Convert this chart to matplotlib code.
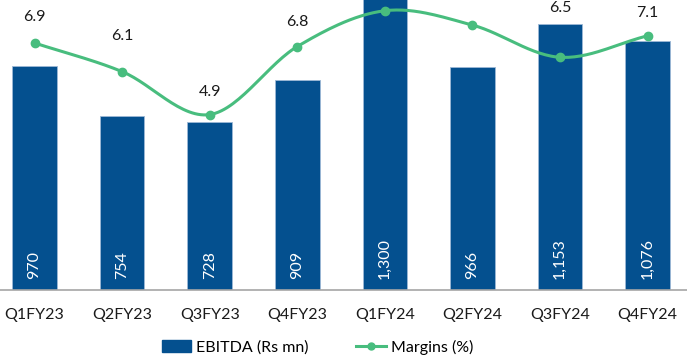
import numpy as np
import matplotlib
matplotlib.use("Agg")
import matplotlib.pyplot as plt
from matplotlib.patches import Patch
from matplotlib.lines import Line2D

quarters = ["Q1FY23", "Q2FY23", "Q3FY23", "Q4FY23", "Q1FY24", "Q2FY24", "Q3FY24", "Q4FY24"]
ebitda = [970, 754, 728, 909, 1300, 966, 1153, 1076]
ebitda_labels = ["970", "754", "728", "909", "1,300", "966", "1,153", "1,076"]
margins = [6.9, 6.1, 4.9, 6.8, 7.8, 7.4, 6.5, 7.1]
# label offsets above the point, in pixels (None = label not visible in the reference)
label_offsets_px = [26, 36, 23, 25, None, None, 49, 23]

BLUE = "#04508F"
GREEN = "#48BD7E"

plt.rcParams['font.family'] = ['Lato', 'DejaVu Sans']

fig = plt.figure(figsize=(6.87, 3.61), dpi=100)
ax = fig.add_axes([0, 71/361, 1, 290/361])
x = np.arange(len(quarters))
ax.bar(x, ebitda, width=0.51, color=BLUE, edgecolor="#9DB8D6", linewidth=0.6, zorder=2)
ax.set_ylim(0, 1255)
ax.set_xlim(-0.394, 7.45)
for xi, lab in zip(x, ebitda_labels):
    ax.text(xi, 46, lab, rotation=90, ha="center", va="bottom", color="white", fontsize=11.5)

for s in ["top", "right", "left"]:
    ax.spines[s].set_visible(False)
ax.spines["bottom"].set_color("#A6A6A6")
ax.spines["bottom"].set_linewidth(1.2)
ax.set_yticks([])
ax.set_xticks(x)
ax.set_xticklabels(quarters, fontsize=11.5, color="#1a1a1a")
ax.tick_params(axis="x", length=0, pad=13)

ax2 = ax.twinx()
ax2.set_ylim(0, 8.1)
ax2.set_yticks([])
for s in ax2.spines.values():
    s.set_visible(False)

# smooth (Catmull-Rom) curve through the data points for drawing
def catmull(xs, ys, n=30):
    xs = np.asarray(xs, float); ys = np.asarray(ys, float)
    px = np.concatenate([[2*xs[0]-xs[1]], xs, [2*xs[-1]-xs[-2]]])
    py = np.concatenate([[2*ys[0]-ys[1]], ys, [2*ys[-1]-ys[-2]]])
    ox, oy = [], []
    for i in range(1, len(px)-2):
        t = np.linspace(0, 1, n, endpoint=False)
        for arr, out in ((px, ox), (py, oy)):
            p0, p1, p2, p3 = arr[i-1], arr[i], arr[i+1], arr[i+2]
            out.extend(0.5*((2*p1) + (-p0+p2)*t + (2*p0-5*p1+4*p2-p3)*t**2 + (-p0+3*p1-3*p2+p3)*t**3))
    ox.append(xs[-1]); oy.append(ys[-1])
    return np.array(ox), np.array(oy)

sx, sy = catmull(x, margins)
ax2.plot(sx, sy, color=GREEN, linewidth=2.2, zorder=3, clip_on=False)
ax2.plot(x, margins, 'o', color=GREEN, markersize=6, zorder=4, clip_on=False)
for xi, m, off in zip(x, margins, label_offsets_px):
    if off is None:
        continue
    ax2.annotate(f"{m:.1f}", (xi, m), xytext=(0, off * 0.72), textcoords="offset points",
                 ha="center", va="center", fontsize=11.5, color="#1a1a1a", annotation_clip=False)

handles = [Patch(facecolor=BLUE, edgecolor=BLUE),
           Line2D([0], [0], color=GREEN, linewidth=2.2, marker='o', markersize=5)]
fig.legend(handles, ["EBITDA (Rs mn)", "Margins (%)"], loc="center", bbox_to_anchor=(0.462, 14/361),
           ncol=2, frameon=False, fontsize=11.5, handlelength=1.85, handleheight=0.7,
           columnspacing=3.0, handletextpad=0.3)

fig.savefig("out.png", dpi=100)
